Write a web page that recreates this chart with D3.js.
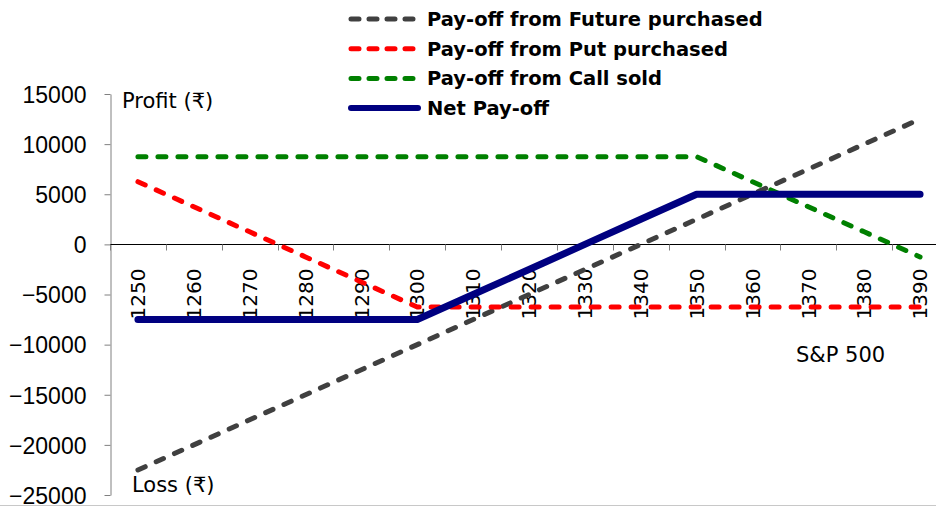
<!DOCTYPE html>
<html><head><meta charset="utf-8">
<script src="https://cdn.jsdelivr.net/npm/d3@7/dist/d3.min.js"></script>
<style>body{margin:0;background:#fff;overflow:hidden}</style>
</head><body>
<svg id="c" width="936" height="506"></svg>
<script>
const categories = [1250,1260,1270,1280,1290,1300,1310,1320,1330,1340,1350,1360,1370,1380,1390];
const futurePurchased = [-22500,-20000,-17500,-15000,-12500,-10000,-7500,-5000,-2500,0,2500,5000,7500,10000,12500];
const putPurchased = [6250,3750,1250,-1250,-3750,-6250,-6250,-6250,-6250,-6250,-6250,-6250,-6250,-6250,-6250];
const callSold = [8750,8750,8750,8750,8750,8750,8750,8750,8750,8750,8750,6250,3750,1250,-1250];
const netPayoff = [-7500,-7500,-7500,-7500,-7500,-7500,-5000,-2500,0,2500,5000,5000,5000,5000,5000];
const yTicks = [-25000,-20000,-15000,-10000,-5000,0,5000,10000,15000];
const seriesNames = ["Pay-off from Future purchased","Pay-off from Put purchased","Pay-off from Call sold","Net Pay-off"];

const series = [
  {name: seriesNames[0], values: futurePurchased, color: "#404040", dash: "8,12", width: 5},
  {name: seriesNames[1], values: putPurchased, color: "#ff0000", dash: "8,12", width: 5},
  {name: seriesNames[2], values: callSold, color: "#008000", dash: "8,12", width: 5},
  {name: seriesNames[3], values: netPayoff, color: "#000080", dash: null, width: 7}
];

const svg = d3.select("#c");
const x = d3.scaleBand().domain(categories).range([110, 948]).padding(0);
const y = d3.scaleLinear().domain([-25000, 15000]).range([495, 94]);

// bottom border
svg.append("line").attr("x1",0).attr("x2",936).attr("y1",505.5).attr("y2",505.5)
  .attr("stroke","#c8c8c8").attr("stroke-width",1);

// Y axis
const yAxis = svg.append("g").attr("transform","translate(110.5,0)")
  .call(d3.axisLeft(y).tickValues(yTicks).tickSize(6).tickSizeOuter(0).tickPadding(18).tickFormat(d3.format("d")));
yAxis.select(".domain").attr("stroke","#808080");
yAxis.selectAll(".tick line").attr("stroke","#808080");
yAxis.selectAll(".tick text").attr("font-family","Liberation Sans, Arial, sans-serif").attr("font-size",23).attr("fill","#000").attr("dy","0.36em");

// X axis at zero
const y0 = Math.round(y(0)) + 0.5;
svg.append("line").attr("x1",110).attr("x2",948).attr("y1",y0).attr("y2",y0).attr("stroke","#000").attr("stroke-width",1);
const tickPos = categories.map(c => x(c)).concat([x(categories[categories.length-1]) + x.bandwidth()]);
svg.append("g").selectAll("line").data(tickPos).join("line")
  .attr("x1",d=>Math.round(d)+0.5).attr("x2",d=>Math.round(d)+0.5)
  .attr("y1",y0).attr("y2",y0+6).attr("stroke","#808080");

// X labels (rotated)
svg.append("g").selectAll("text").data(categories).join("text")
  .attr("transform", d => `translate(${x(d)+x.bandwidth()/2},${y0+24}) rotate(-90)`)
  .attr("text-anchor","end").attr("dy","0.36em")
  .attr("font-family","DejaVu Sans, Verdana, sans-serif").attr("font-size",20).attr("fill","#000")
  .text(d => d);

// Lines
const line = d3.line().x((d,i) => x(categories[i]) + x.bandwidth()/2).y(d => y(d));
svg.append("g").selectAll("path").data(series).join("path")
  .attr("d", d => line(d.values))
  .attr("fill","none").attr("stroke", d => d.color).attr("stroke-width", d => d.width)
  .attr("stroke-dasharray", d => d.dash).attr("stroke-linecap","round").attr("stroke-linejoin","round");

// Annotations
const ann = svg.append("g").attr("font-family","DejaVu Sans, Verdana, sans-serif").attr("font-size",21).attr("fill","#000");
ann.append("text").attr("x",122).attr("y",108).text("Profit (₹)");
ann.append("text").attr("x",132).attr("y",492).text("Loss (₹)");
ann.append("text").attr("x",796).attr("y",362).text("S&P 500");

// Legend
const lg = svg.append("g").selectAll("g").data(series).join("g")
  .attr("transform",(d,i)=>`translate(0,${19 + i*29.7})`);
lg.append("line").attr("x1",351).attr("x2",418).attr("y1",0).attr("y2",0)
  .attr("stroke",d=>d.color).attr("stroke-width",d=>d.width===7?6:5)
  .attr("stroke-dasharray",d=>d.dash ? "8,10" : null).attr("stroke-linecap","round");
lg.append("text").attr("x",427).attr("y",0).attr("dy","0.36em")
  .attr("font-family","DejaVu Sans, Verdana, sans-serif").attr("font-weight","bold").attr("font-size",19.5).attr("fill","#000")
  .text(d=>d.name);
</script>
</body></html>
